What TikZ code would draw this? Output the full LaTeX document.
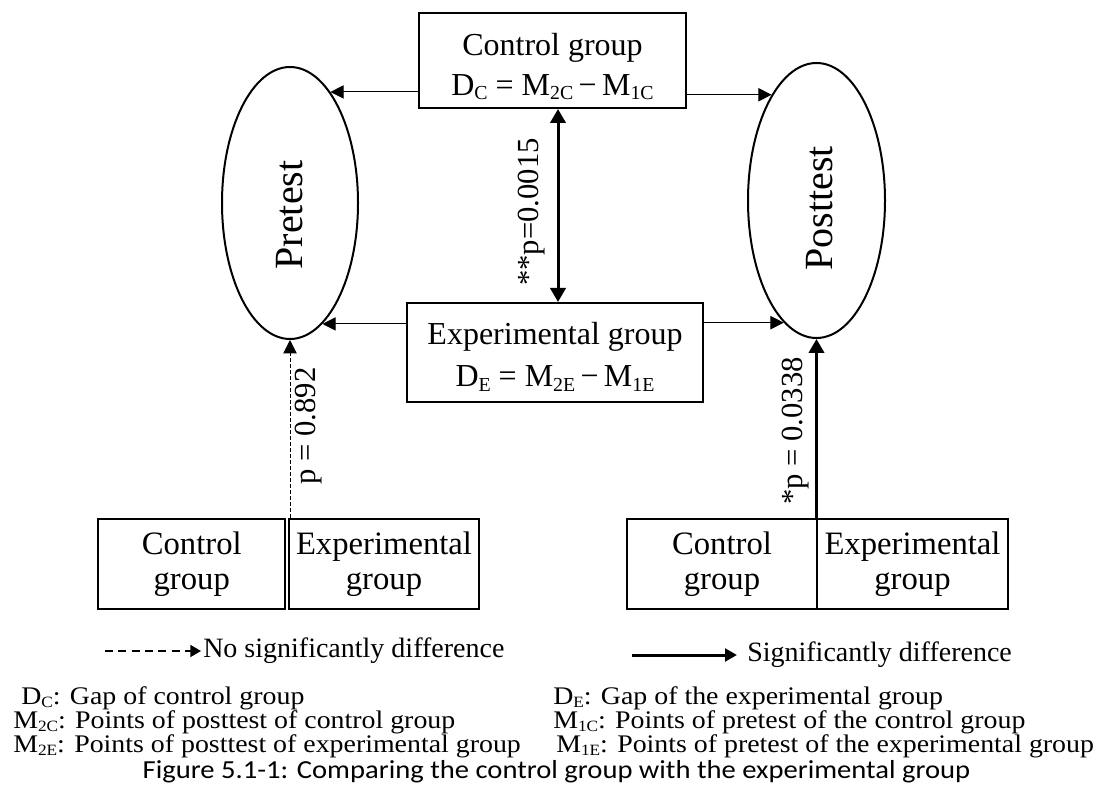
\documentclass[tikz,border=0pt]{standalone}
\usepackage{fontspec}
\setmainfont{Liberation Serif}
\newfontfamily\notefont[FakeStretch=1.1]{Liberation Serif}
\newfontfamily\capfont[FakeStretch=1.1]{Carlito}
\usetikzlibrary{arrows.meta,shapes.geometric}
% lowered, reduced-size subscript letters (D_C, M_2C, ...)
\newcommand{\lsub}[1]{\raisebox{-0.3ex}{\scalebox{0.62}{#1}}}

\begin{document}
\begin{tikzpicture}[x=0.75pt,y=-0.75pt,
  groupbox/.style={draw, line width=1.5pt, inner sep=0pt},
  testoval/.style={draw, ellipse, line width=1.5pt, inner sep=0pt},
  cell/.style={draw, line width=1.5pt, inner sep=0pt, minimum height=67.5pt,
    align=center, font=\fontsize{24.5}{26.25}\selectfont},
  boxtext/.style={align=center, font=\fontsize{24}{30}\selectfont, inner sep=0pt},
  ovaltext/.style={rotate=90, font=\fontsize{30}{36}\selectfont, inner sep=0pt},
  pval/.style={rotate=90, font=\fontsize{23}{28}\selectfont, inner sep=0pt},
  flow/.style={line width=0.75pt, -{Triangle[length=10pt,width=10pt]}},
  sig/.style={line width=2.25pt, -{Triangle[length=10.5pt,width=11.5pt]}},
  sigboth/.style={line width=2.25pt,
    {Triangle[length=10.5pt,width=11.5pt]}-{Triangle[length=10.5pt,width=11.5pt]}},
  nosig/.style={line width=0.75pt, dash pattern=on 3pt off 1.5pt,
    -{Triangle[length=10pt,width=10pt]}},
  nosigkeyline/.style={line width=1.2pt, dash pattern=on 6pt off 4pt,
    -{Triangle[length=8pt,width=9pt]}},
  sigkeyline/.style={line width=2.25pt, -{Triangle[length=9pt,width=9.5pt]}},
  legendtext/.style={font=\fontsize{21}{24}\selectfont, inner sep=0pt, anchor=west},
  note/.style={font=\notefont\fontsize{19}{17.6}\selectfont, inner sep=0pt, anchor=base west},
]
\path[fill=white, use as bounding box] (0,0) rectangle (1100,805);

% group boxes
\node[groupbox, minimum width=200.25pt, minimum height=71.25pt] (ctl) at (552.5,60.5) {};
\node[boxtext] (ctltxt) at ([yshift=-4.5pt]ctl.center)
  {Control group\\D\lsub{C} = M\lsub{2C}\,−\,M\lsub{1C}};
\node[groupbox, minimum width=222pt, minimum height=74.25pt] (exp) at (555,352.5) {};
\node[boxtext, font=\fontsize{24}{32}\selectfont] (exptxt) at ([yshift=-3pt]exp.center)
  {Experimental group\\D\lsub{E} = M\lsub{2E}\,−\,M\lsub{1E}};

% test ovals
\node[testoval, minimum width=102pt, minimum height=204pt] (pre) at (290,203) {};
\node[ovaltext] (pretxt) at ([yshift=-9pt]pre.center) {Pretest};
\node[testoval, minimum width=102.75pt, minimum height=206.25pt] (post) at (816.5,200.5) {};
\node[ovaltext] (posttxt) at ([xshift=2.5pt,yshift=-6pt]post.center) {Posttest};

% group boxes feed both tests
\draw[flow] (ctl.west |- pre.70) -- (pre.70);
\draw[flow] (ctl.east |- post.113) -- (post.113);
\draw[flow] (exp.west |- pre.-75) -- (pre.-75);
\draw[flow] (exp.east |- post.-105) -- (post.-105);

% gap comparison
\coordinate (axis) at (558,200);
\draw[sigboth] (ctl.south -| axis) -- (exp.north -| axis);
\node[pval] (pgap) at (532,212) {**p=0.0015};

% score tables
\node[cell, minimum width=140.6pt] (ctlL) at (191.75,564) {Control\\group};
\node[cell, minimum width=142.5pt] (expL) at (384,564) {Experimental\\group};
\node[cell, minimum width=142.5pt] (ctlR) at (722,564) {Control\\group};
\node[cell, minimum width=143.25pt] (expR) at (912.5,564) {Experimental\\group};

\draw[nosig] (pre.south |- expL.north) -- (pre.south);
\node[pval] (ppre) at (309,426) {p = 0.892};
\draw[sig] (post.south |- expR.north) -- (post.south);
\node[pval] (ppost) at (796,431) {*p = 0.0338};

% legend
\coordinate (nosigstart) at (105,651);
\node[legendtext] (nosigkey) at (203,651) {No significantly difference};
\draw[nosigkeyline, shorten >=1.5pt] (nosigstart) -- (nosigkey.west);
\coordinate (sigstart) at (632,655);
\node[legendtext] (sigkey) at (747,655) {Significantly difference};
\draw[sigkeyline, shorten >=7.5pt] (sigstart) -- (sigkey.west);

% notation
\node[note] (dc)  at (21,704)  {D\lsub{C}: Gap of control group};
\node[note] (m2c) at (13,728)  {M\lsub{2C}: Points of posttest of control group};
\node[note] (m2e) at (13,752)  {M\lsub{2E}: Points of posttest of experimental group};
\node[note] (de)  at (553,704) {D\lsub{E}: Gap of the experimental group};
\node[note] (m1c) at (553,728) {M\lsub{1C}: Points of pretest of the control group};
\node[note] (m1e) at (556,752) {M\lsub{1E}: Points of pretest of the experimental group};

\node[font={\capfont\fontsize{19.5}{24}\selectfont}, inner sep=0pt, anchor=base] (caption)
  at (556.5,778) {Figure 5.1-1: Comparing the control group with the experimental group};
\end{tikzpicture}
\end{document}
